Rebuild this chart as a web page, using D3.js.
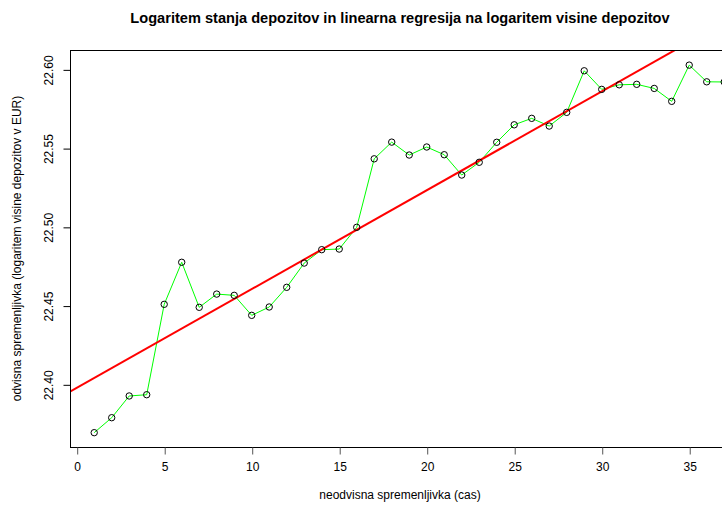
<!DOCTYPE html>
<html>
<head>
<meta charset="utf-8">
<script src="https://cdn.jsdelivr.net/npm/d3@7"></script>
<style>
  html, body { margin: 0; padding: 0; background: #fff; }
  svg { display: block; font-family: "Liberation Sans", Arial, sans-serif; }
</style>
</head>
<body>
<svg id="chart" width="722" height="508"></svg>
<script>
// time index (cas)
const periods = d3.range(1, 38);
// log of deposit level
const logDeposits = [
  22.3693, 22.3788, 22.3926, 22.3934, 22.4508, 22.4775, 22.4489, 22.4573,
  22.4565, 22.4438, 22.4491, 22.4616, 22.4770, 22.4855, 22.4859, 22.4997,
  22.5432, 22.5538, 22.5456, 22.5507, 22.5458, 22.5329, 22.5410, 22.5537,
  22.5648, 22.5689, 22.5640, 22.5727, 22.5991, 22.5873, 22.5902, 22.5905,
  22.5879, 22.5797, 22.6027, 22.5921, 22.5920
];
// fitted regression line: intercept + slope * cas
const fitIntercept = 22.3977;
const fitSlope = 0.006276;

const xTicks = [0, 5, 10, 15, 20, 25, 30, 35];
const yTicks = [22.40, 22.45, 22.50, 22.55, 22.60];

const title = "Logaritem stanja depozitov in linearna regresija na logaritem visine depozitov";
const xLabel = "neodvisna spremenljivka (cas)";
const yLabel = "odvisna spremenljivka (logaritem visine depozitov v EUR)";

const svg = d3.select("#chart");
const plot = { left: 70, right: 730, top: 50, bottom: 447 };

const x = d3.scaleLinear().domain([-0.383, 37.33]).range([plot.left, plot.right]);
const y = d3.scaleLinear().domain([22.3602, 22.6123]).range([plot.bottom, plot.top]);

svg.append("defs").append("clipPath").attr("id", "plotClip")
  .append("rect")
  .attr("x", plot.left).attr("y", plot.top)
  .attr("width", plot.right - plot.left).attr("height", plot.bottom - plot.top);

const data = periods.map((t, i) => ({ t, v: logDeposits[i] }));

const inner = svg.append("g").attr("clip-path", "url(#plotClip)");

// observed series
inner.append("path")
  .datum(data)
  .attr("fill", "none")
  .attr("stroke", "#00ff00")
  .attr("stroke-width", 1)
  .attr("d", d3.line().x(d => x(d.t)).y(d => y(d.v)));

// regression line across the full x range
const [x0, x1] = x.domain();
inner.append("line")
  .attr("x1", x(x0)).attr("y1", y(fitIntercept + fitSlope * x0))
  .attr("x2", x(x1)).attr("y2", y(fitIntercept + fitSlope * x1))
  .attr("stroke", "#ff0000")
  .attr("stroke-width", 2);

// observation markers
inner.selectAll("circle.obs")
  .data(data)
  .join("circle")
  .attr("class", "obs")
  .attr("cx", d => x(d.t))
  .attr("cy", d => y(d.v))
  .attr("r", 3.2)
  .attr("fill", "none")
  .attr("stroke", "#000")
  .attr("stroke-width", 1);

// frame
svg.append("rect")
  .attr("x", plot.left + 0.5).attr("y", plot.top + 0.5)
  .attr("width", plot.right - plot.left).attr("height", plot.bottom - plot.top)
  .attr("fill", "none").attr("stroke", "#000").attr("stroke-width", 1);

// x axis
const xAxis = d3.axisBottom(x).tickValues(xTicks).tickSize(7).tickSizeOuter(0)
  .tickFormat(d3.format("d")).tickPadding(8);
const gx = svg.append("g")
  .attr("transform", `translate(0.5,${plot.bottom + 0.5})`)
  .call(xAxis);
gx.select(".domain").attr("d", `M${x(xTicks[0])},0H${x(xTicks[xTicks.length - 1])}`)
  .attr("stroke", "#000");
gx.selectAll(".tick line").attr("stroke", "#555");
gx.selectAll(".tick text").attr("font-size", 12).attr("fill", "#000")
  .attr("font-family", "Liberation Sans, Arial, sans-serif");

// y axis with rotated labels
const yAxis = d3.axisLeft(y).tickValues(yTicks).tickSize(7).tickSizeOuter(0)
  .tickFormat(d3.format(".2f"));
const gy = svg.append("g")
  .attr("transform", `translate(${plot.left + 0.5},0.5)`)
  .call(yAxis);
gy.select(".domain").attr("d", `M0,${y(yTicks[0])}V${y(yTicks[yTicks.length - 1])}`)
  .attr("stroke", "#000");
gy.selectAll(".tick line").attr("stroke", "#000");
gy.selectAll(".tick text")
  .attr("font-size", 12).attr("fill", "#000")
  .attr("font-family", "Liberation Sans, Arial, sans-serif")
  .attr("x", null).attr("dy", null)
  .attr("text-anchor", "middle")
  .attr("transform", "translate(-18,0) rotate(-90)");

// titles
svg.append("text")
  .attr("x", (plot.left + plot.right) / 2).attr("y", 23)
  .attr("text-anchor", "middle")
  .attr("font-size", 14.6).attr("font-weight", "bold")
  .text(title);

svg.append("text")
  .attr("x", (plot.left + plot.right) / 2).attr("y", 499)
  .attr("text-anchor", "middle")
  .attr("font-size", 12)
  .text(xLabel);

svg.append("text")
  .attr("transform", `translate(21,${(plot.top + plot.bottom) / 2}) rotate(-90)`)
  .attr("text-anchor", "middle")
  .attr("font-size", 12)
  .text(yLabel);
</script>
</body>
</html>
